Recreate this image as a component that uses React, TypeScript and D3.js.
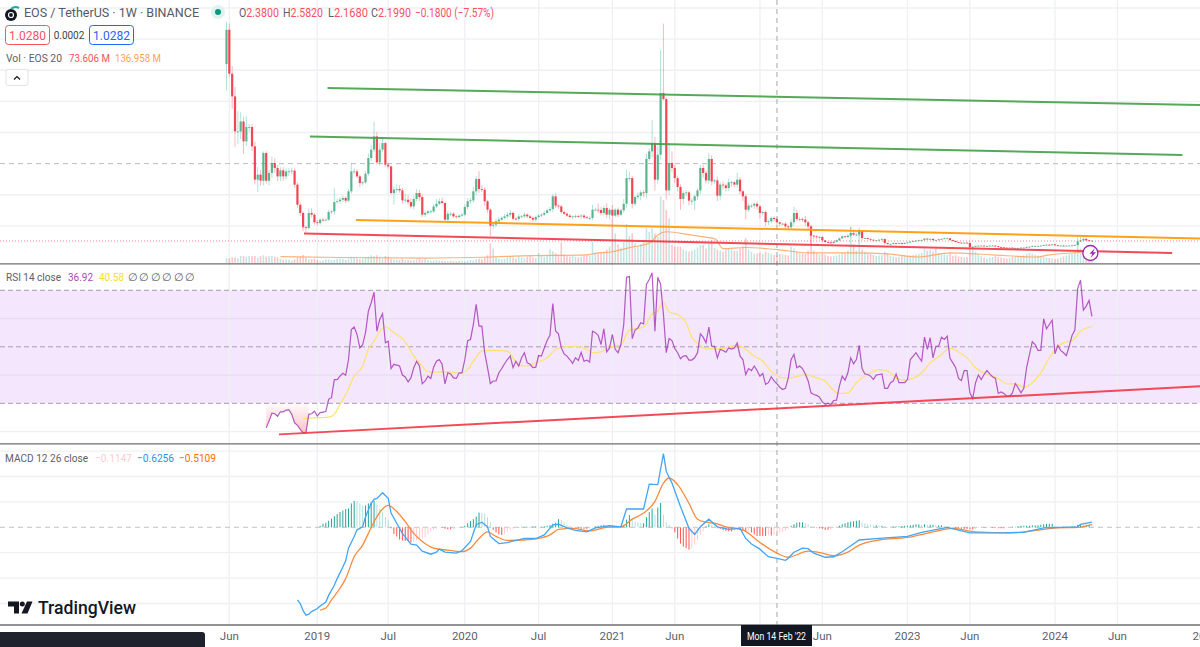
import React from "react";
import * as d3 from "d3";

const WIDTH = 1200;
const HEIGHT = 647;
const FONT = "Roboto, 'Noto Sans', sans-serif";

// weekly bars, first one opens the week of 28 May 2018
const firstBar = Date.UTC(2018, 4, 28);
const firstOpen = 12.4;
const WEEK = 7 * 24 * 3600 * 1000;

const closes = [
  14.6, 11.78, 10.32, 8.07, 8.07, 8.71, 7.43, 8.35, 8.35, 7.11,
  4.97, 5.29, 4.9, 6.68, 4.9, 5.4, 6.04, 5.72, 5.18, 5.57,
  5.18, 5.5, 5.5, 5.55, 4.65, 3.36, 2.83, 1.91, 1.86, 2.83,
  2.72, 2.23, 2.18, 2.4, 2.36, 2.4, 2.89, 2.93, 3.53, 3.58,
  3.68, 3.79, 3.62, 4.22, 5.5, 5.5, 5.18, 4.75, 4.8, 5.35,
  6.36, 6.9, 7.75, 6.08, 6.9, 7.32, 5.93, 5.82, 4.11, 4.33,
  4.37, 4.28, 3.64, 3.68, 3.53, 3.25, 3.73, 4.11, 3.85, 2.72,
  2.83, 2.93, 2.93, 3.25, 3.42, 3.58, 3.47, 2.4, 2.78, 2.78,
  2.61, 2.57, 2.66, 2.72, 3.21, 3.58, 3.64, 4.22, 5.01, 4.37,
  4.33, 3.58, 3.04, 2.01, 2.08, 2.29, 2.4, 2.51, 2.61, 2.72,
  2.83, 2.46, 2.44, 2.61, 2.61, 2.72, 2.61, 2.51, 2.4, 2.57,
  2.66, 2.72, 2.83, 3.0, 3.08, 3.9, 3.3, 3.25, 2.89, 2.78,
  2.66, 2.57, 2.61, 2.63, 2.61, 2.66, 2.55, 2.51, 2.51, 3.04,
  3.04, 3.02, 2.83, 3.15, 2.72, 3.04, 2.66, 3.04, 2.72, 3.0,
  3.42, 5.07, 5.07, 3.42, 3.85, 3.94, 4.15, 4.11, 6.3, 6.79,
  7.32, 4.97, 6.57, 10.54, 10.15, 4.28, 6.04, 5.72, 5.07, 4.5,
  3.73, 4.11, 4.15, 3.62, 3.62, 3.9, 4.28, 5.72, 5.4, 4.92,
  6.3, 4.86, 4.92, 3.94, 4.65, 4.6, 4.43, 4.8, 4.8, 4.65,
  4.97, 4.22, 3.9, 3.04, 3.3, 3.3, 3.42, 3.25, 2.83, 2.89,
  2.25, 2.29, 2.51, 2.44, 2.23, 2.14, 2.14, 1.97, 1.91, 2.23,
  2.83, 2.44, 2.44, 2.4, 2.23, 1.97, 1.37, 1.33, 1.28, 1.28,
  1.07, 0.96, 0.94, 0.9, 0.98, 1.07, 1.2, 1.33, 1.28, 1.37,
  1.54, 1.44, 1.44, 1.65, 1.22, 1.22, 1.16, 1.11, 1.07, 1.07,
  1.11, 1.16, 0.9, 0.84, 0.84, 0.9, 0.86, 0.9, 0.84, 0.9,
  0.94, 0.98, 1.03, 1.05, 1.07, 1.09, 1.18, 1.14, 1.16, 1.09,
  1.09, 1.14, 1.16, 1.2, 1.2, 1.09, 1.03, 0.96, 0.92, 0.9,
  0.92, 0.9, 0.64, 0.66, 0.71, 0.73, 0.73, 0.71, 0.71, 0.73,
  0.73, 0.69, 0.64, 0.62, 0.6, 0.58, 0.6, 0.58, 0.58, 0.58,
  0.6, 0.6, 0.64, 0.66, 0.71, 0.71, 0.71, 0.73, 0.77, 0.79,
  0.77, 0.81, 0.75, 0.73, 0.73, 0.71, 0.73, 0.73, 0.75, 0.77,
  1.0, 1.07, 1.16, 1.07, 1.05, 1.05,
];

const upperWicks = [
  0.5, 0.4, 0.5, 0.6, 1.3, 0.6, 0.3, 0.7, 0.2, 0.2,
  0.3, 0.5, 0.3, 0.1, 0.1, 0.2, 0.4, 0.3, 0.2, 0.2,
  0.2, 0.2, 0.2, 0.2, 0.15, 0.15, 0.15, 0.1, 0.1, 0.3,
  0.3, 0.1, 0.15, 0.1, 0.1, 0.05, 0.15, 0.1, 0.9, 0.15,
  0.15, 0.15, 0.1, 0.15, 0.5, 0.2, 0.15, 0.1, 0.1, 0.15,
  0.3, 0.3, 0.95, 0.3, 0.4, 0.3, 0.1, 0.1, 0.05, 0.2,
  0.3, 0.25, 0.15, 0.4, 0.3, 0.25, 0.2, 0.25, 0.2, 0.15,
  0.15, 0.1, 0.1, 0.15, 0.3, 0.2, 0.25, 0.1, 0.15, 0.1,
  0.1, 0.1, 0.1, 0.1, 0.15, 0.2, 0.15, 0.3, 0.2, 0.5,
  0.25, 0.15, 0.1, 0.1, 0.2, 0.15, 0.15, 0.1, 0.15, 0.15,
  0.2, 0.1, 0.1, 0.15, 0.1, 0.15, 0.1, 0.1, 0.1, 0.1,
  0.1, 0.1, 0.15, 0.1, 0.15, 0.15, 0.2, 0.1, 0.1, 0.1,
  0.1, 0.1, 0.05, 0.1, 0.1, 0.1, 0.1, 0.1, 0.1, 0.3,
  0.1, 0.4, 0.2, 0.15, 0.3, 0.1, 0.3, 0.1, 0.15, 0.1,
  0.3, 0.55, 0.4, 0.15, 0.1, 0.2, 0.15, 0.15, 0.35, 0.2,
  1.48, 0.4, 0.55, 2.76, 4.45, 0.1, 1.26, 0.75, 0.2, 0.15,
  0.2, 0.15, 0.15, 0.1, 0.15, 0.1, 0.15, 0.2, 0.2, 0.15,
  0.4, 0.25, 0.1, 0.25, 0.15, 0.2, 0.1, 0.25, 0.1, 0.1,
  0.45, 0.15, 0.1, 0.15, 0.15, 0.1, 0.1, 0.15, 0.1, 0.1,
  0.1, 0.1, 0.1, 0.1, 0.1, 0.05, 0.05, 0.1, 0.05, 0.2,
  0.4, 0.2, 0.15, 0.1, 0.25, 0.1, 0.1, 0.05, 0.05, 0.05,
  0.05, 0.03, 0.03, 0.05, 0.05, 0.05, 0.05, 0.05, 0.05, 0.1,
  0.36, 0.2, 0.1, 0.25, 0.1, 0.05, 0.05, 0.05, 0.03, 0.03,
  0.05, 0.05, 0.03, 0.03, 0.03, 0.03, 0.03, 0.03, 0.03, 0.05,
  0.03, 0.05, 0.03, 0.03, 0.05, 0.05, 0.05, 0.05, 0.05, 0.05,
  0.05, 0.05, 0.05, 0.05, 0.05, 0.03, 0.03, 0.03, 0.03, 0.03,
  0.03, 0.03, 0.1, 0.05, 0.03, 0.03, 0.03, 0.03, 0.03, 0.03,
  0.03, 0.03, 0.03, 0.03, 0.03, 0.03, 0.03, 0.03, 0.03, 0.03,
  0.03, 0.03, 0.03, 0.03, 0.03, 0.03, 0.03, 0.03, 0.05, 0.05,
  0.05, 0.05, 0.03, 0.03, 0.03, 0.03, 0.03, 0.03, 0.03, 0.03,
  0.25, 0.35, 0.15, 0.1, 0.05, 0.04,
];

const lowerWicks = [
  1.7, 0.2, 0.8, 1.0, 0.8, 0.5, 0.8, 0.3, 0.3, 0.3,
  0.3, 0.8, 0.3, 0.3, 0.2, 0.3, 0.3, 0.3, 0.3, 0.3,
  0.3, 0.2, 0.3, 0.2, 0.2, 0.2, 0.2, 0.25, 0.3, 0.1,
  0.2, 0.15, 0.15, 0.1, 0.1, 0.05, 0.1, 0.15, 0.2, 0.1,
  0.15, 0.15, 0.15, 0.1, 0.15, 0.15, 0.1, 0.25, 0.15, 0.1,
  0.15, 0.2, 0.15, 0.15, 0.2, 0.15, 0.15, 0.15, 0.1, 0.75,
  0.2, 0.15, 0.2, 0.15, 0.15, 0.15, 0.2, 0.15, 0.25, 0.15,
  0.15, 0.1, 0.1, 0.1, 0.1, 0.1, 0.1, 0.15, 0.15, 0.15,
  0.1, 0.1, 0.1, 0.1, 0.1, 0.15, 0.15, 0.15, 0.25, 0.25,
  0.15, 0.3, 0.2, 0.64, 0.2, 0.15, 0.1, 0.1, 0.1, 0.15,
  0.15, 0.1, 0.1, 0.1, 0.1, 0.1, 0.1, 0.1, 0.15, 0.15,
  0.1, 0.1, 0.1, 0.1, 0.1, 0.2, 0.15, 0.15, 0.1, 0.1,
  0.1, 0.1, 0.15, 0.1, 0.1, 0.15, 0.1, 0.05, 0.15, 0.15,
  0.1, 0.2, 0.15, 0.15, 0.2, 0.3, 0.15, 0.1, 0.15, 0.1,
  0.15, 0.25, 0.2, 0.3, 0.15, 0.15, 0.3, 0.25, 0.3, 0.15,
  0.4, 0.7, 0.25, 0.3, 0.1, 0.6, 0.3, 0.25, 0.3, 0.3,
  0.7, 0.35, 0.2, 0.3, 0.3, 0.6, 0.25, 0.25, 0.3, 0.2,
  0.2, 0.25, 0.15, 0.35, 0.3, 0.25, 0.2, 0.2, 0.3, 0.15,
  0.2, 0.2, 0.3, 0.6, 0.15, 0.15, 0.2, 0.2, 0.35, 0.15,
  0.25, 0.2, 0.1, 0.15, 0.2, 0.15, 0.1, 0.15, 0.15, 0.1,
  0.2, 0.15, 0.15, 0.15, 0.2, 0.15, 0.65, 0.2, 0.15, 0.15,
  0.1, 0.05, 0.05, 0.05, 0.05, 0.05, 0.05, 0.05, 0.05, 0.05,
  0.1, 0.1, 0.1, 0.1, 0.15, 0.05, 0.05, 0.05, 0.05, 0.05,
  0.05, 0.05, 0.1, 0.05, 0.03, 0.03, 0.03, 0.03, 0.03, 0.03,
  0.03, 0.05, 0.03, 0.03, 0.03, 0.03, 0.05, 0.05, 0.05, 0.05,
  0.03, 0.05, 0.03, 0.03, 0.05, 0.05, 0.05, 0.03, 0.03, 0.03,
  0.03, 0.03, 0.1, 0.05, 0.03, 0.03, 0.03, 0.03, 0.03, 0.03,
  0.03, 0.03, 0.03, 0.03, 0.03, 0.03, 0.03, 0.03, 0.03, 0.03,
  0.03, 0.03, 0.03, 0.03, 0.03, 0.03, 0.03, 0.03, 0.03, 0.03,
  0.03, 0.03, 0.03, 0.03, 0.03, 0.03, 0.03, 0.03, 0.03, 0.03,
  0.03, 0.03, 0.03, 0.03, 0.03, 0.03,
];

// volume in millions
const volumes = [
  48, 48, 57, 57, 48, 70, 70, 63, 70, 70,
  70, 57, 70, 76, 63, 70, 70, 63, 57, 44,
  32, 38, 32, 25, 38, 57, 63, 79, 57, 38,
  38, 44, 32, 22, 25, 38, 38, 32, 32, 44,
  44, 44, 32, 44, 63, 57, 44, 38, 44, 57,
  63, 76, 70, 76, 63, 44, 70, 63, 44, 38,
  38, 32, 44, 32, 32, 25, 32, 38, 44, 32,
  44, 32, 25, 25, 32, 25, 25, 19, 19, 25,
  19, 19, 25, 25, 19, 25, 32, 25, 38, 44,
  38, 57, 76, 190, 140, 63, 44, 38, 44, 57,
  70, 57, 44, 63, 57, 50, 63, 76, 57, 50,
  95, 70, 63, 76, 133, 115, 95, 82, 197, 82,
  70, 63, 70, 63, 57, 63, 76, 82, 70, 206,
  100, 90, 100, 110, 130, 160, 428, 285, 180, 150,
  200, 374, 260, 285, 190, 160, 180, 200, 333, 300,
  333, 285, 250, 634, 602, 507, 428, 175, 158, 160,
  158, 130, 120, 110, 120, 130, 150, 175, 175, 140,
  190, 222, 150, 130, 120, 110, 130, 140, 130, 120,
  120, 140, 160, 238, 130, 110, 90, 95, 100, 90,
  110, 100, 90, 80, 74, 90, 85, 80, 75, 158,
  140, 110, 100, 95, 90, 120, 285, 120, 95, 85,
  90, 80, 70, 65, 70, 75, 85, 100, 95, 120,
  349, 180, 120, 317, 130, 110, 100, 90, 80, 70,
  75, 80, 110, 95, 70, 65, 60, 65, 70, 75,
  70, 75, 80, 85, 90, 100, 140, 120, 130, 110,
  140, 100, 90, 85, 80, 100, 70, 75, 65, 60,
  55, 60, 160, 150, 110, 90, 70, 55, 45, 55,
  60, 70, 60, 55, 50, 45, 50, 60, 65, 60,
  70, 75, 90, 100, 90, 80, 75, 70, 60, 55,
  50, 45, 40, 45, 55, 65, 75, 85, 95, 110,
  190, 140, 100, 90, 80, 60,
];

const volMaBars = [19, 40, 70, 93, 104, 127, 130, 136, 143, 149, 152, 155, 160, 167, 172, 175, 183, 194, 205, 221, 233, 244, 255, 270, 285, 290, 305];
const volMaValues = [63, 55, 50, 60, 70, 80, 95, 110, 155, 190, 270, 300, 285, 255, 235, 140, 150, 130, 100, 100, 90, 60, 100, 80, 60, 80, 110];

const rsiStart = 14;
const rsiValues = [
  21.3, 23.7, 26.5, 26.3, 25.4, 27.0, 27.0, 27.6, 27.7, 26.1,
  23.1, 22.2, 20.8, 19.5, 19.5, 26.1, 26.3, 27.2, 25.5, 26.7,
  26.9, 27.1, 31.4, 32.0, 38.4, 38.4, 39.6, 40.6, 39.9, 45.5,
  56.1, 57.0, 54.4, 49.6, 50.8, 55.0, 62.6, 65.6, 69.3, 55.5,
  59.7, 61.7, 51.4, 52.0, 42.3, 43.8, 43.5, 43.2, 40.0, 39.3,
  37.6, 39.0, 42.6, 44.9, 43.2, 36.9, 37.9, 39.6, 38.8, 42.8,
  44.9, 45.5, 43.8, 36.9, 40.8, 40.4, 39.0, 38.8, 40.8, 40.8,
  45.5, 52.2, 52.6, 57.9, 65.0, 57.3, 57.3, 47.9, 42.6, 37.0,
  37.9, 37.9, 40.8, 42.3, 44.0, 45.5, 46.7, 42.6, 44.9, 43.2,
  46.1, 47.9, 44.3, 43.8, 42.6, 42.8, 46.9, 46.7, 49.6, 52.2,
  54.1, 65.3, 55.5, 54.6, 49.6, 47.5, 46.7, 45.5, 44.1, 46.1,
  45.2, 48.0, 44.9, 45.3, 44.6, 55.5, 55.0, 54.1, 50.8, 56.4,
  48.2, 49.6, 54.4, 49.1, 47.9, 50.8, 57.9, 74.6, 74.9, 52.9,
  55.9, 56.7, 58.5, 58.1, 72.1, 73.8, 76.2, 55.5, 74.6, 72.1,
  61.4, 47.9, 52.9, 52.2, 49.4, 47.9, 45.8, 46.7, 46.9, 45.3,
  45.3, 46.1, 47.9, 54.6, 53.4, 51.4, 57.0, 50.2, 50.2, 46.1,
  49.1, 48.7, 48.1, 49.6, 49.2, 49.6, 51.4, 46.7, 45.5, 40.2,
  42.3, 41.6, 43.2, 41.6, 39.6, 40.6, 36.7, 37.3, 39.4, 37.9,
  36.9, 35.7, 34.9, 35.3, 39.0, 45.5, 47.3, 42.6, 43.2, 42.3,
  40.4, 37.9, 33.7, 33.1, 32.8, 32.2, 30.5, 29.6, 30.0, 29.6,
  31.0, 31.1, 36.1, 39.6, 38.2, 40.8, 46.1, 44.0, 45.5, 50.5,
  42.3, 40.4, 40.2, 39.6, 38.4, 40.0, 40.2, 40.4, 35.3, 35.3,
  37.3, 37.9, 40.4, 37.3, 37.3, 37.3, 38.4, 45.5, 46.7, 47.9,
  46.3, 44.9, 53.4, 49.1, 53.2, 46.1, 50.2, 50.2, 53.4, 52.6,
  53.8, 45.9, 44.3, 42.6, 38.8, 38.1, 41.6, 41.6, 33.7, 31.7,
  37.3, 40.0, 38.4, 40.2, 41.6, 40.4, 39.4, 38.8, 33.5, 34.0,
  33.5, 32.5, 32.5, 33.7, 37.0, 35.5, 33.7, 35.3, 42.6, 47.3,
  51.8, 50.8, 48.7, 48.7, 59.9, 56.4, 57.9, 59.4, 47.5, 50.5,
  48.7, 47.9, 46.9, 50.2, 54.0, 55.9, 70.6, 73.6, 63.0, 64.4,
  66.4, 60.8,
];

const rsiMaBars = [
  27, 32, 36, 38, 40, 42, 45, 48, 50, 52, 54, 56, 59, 62, 64, 66, 68, 71, 74, 78,
  82, 85, 87, 90, 94, 99, 101, 103, 106, 109, 113, 116, 119, 123, 127, 129, 132, 135, 139, 142,
  147, 150, 152, 154, 156, 159, 162, 164, 166, 169, 174, 180, 183, 186, 189, 192, 196, 199, 204, 208,
  211, 213, 216, 219, 222, 227, 230, 233, 236, 239, 245, 248, 252, 255, 257, 261, 264, 268, 272, 275,
  278, 281, 284, 287, 290, 293, 296, 298, 301, 305,
];
const rsiMaValues = [
  24.6, 24.9, 25.1, 26.1, 29.6, 33.1, 39.6, 43.2, 49.1, 52.0, 55.5, 57.1, 55.0, 52.9, 50.2, 46.7, 44.3, 41.2, 41.0, 41.2,
  40.6, 42.0, 44.9, 48.5, 48.7, 48.5, 46.1, 43.4, 43.2, 44.3, 46.1, 49.1, 50.0, 50.2, 49.1, 47.9, 48.2, 49.9, 50.6, 55.9,
  57.0, 61.7, 62.6, 65.8, 62.3, 61.4, 58.5, 53.4, 51.4, 49.3, 49.3, 50.5, 49.1, 46.7, 44.9, 41.4, 39.0, 39.0, 40.2, 39.0,
  37.9, 35.5, 33.5, 33.7, 37.3, 40.8, 41.9, 41.4, 39.0, 38.2, 40.8, 44.3, 47.3, 49.6, 48.7, 46.1, 42.6, 40.2, 38.8, 36.9,
  36.9, 35.7, 37.3, 40.8, 46.1, 50.2, 51.7, 52.2, 55.5, 57.2,
];

const macdBars = [
  25, 26, 27, 28, 29, 30, 31, 32, 33, 35, 36, 38, 39, 41, 42, 43, 45, 46, 48, 49,
  51, 52, 53, 55, 57, 58, 60, 62, 65, 67, 69, 72, 74, 75, 77, 81, 83, 86, 88, 90,
  92, 93, 96, 99, 101, 105, 109, 112, 115, 117, 120, 123, 127, 130, 135, 139, 141, 147, 149, 152,
  154, 155, 157, 160, 163, 165, 167, 170, 173, 177, 181, 183, 185, 188, 191, 194, 197, 198, 200, 203,
  205, 207, 211, 214, 217, 223, 230, 240, 245, 254, 262, 273, 281, 288, 300, 301, 305,
];
const macdValues = [
  -1.43, -1.5, -1.64, -1.73, -1.71, -1.66, -1.63, -1.6, -1.55, -1.47, -1.34, -1.14, -1.01, -0.78, -0.66, -0.41, -0.18, -0.05, 0.01, 0.21,
  0.47, 0.55, 0.57, 0.68, 0.57, 0.28, 0.08, -0.12, -0.33, -0.35, -0.47, -0.53, -0.49, -0.43, -0.49, -0.51, -0.46, -0.28, 0.05, 0.1,
  0.01, -0.18, -0.32, -0.3, -0.27, -0.22, -0.22, -0.15, 0.05, 0.06, -0.01, -0.06, -0.09, -0.01, 0.03, 0.01, 0.36, 0.36, 0.85, 0.84,
  1.45, 1.1, 0.87, 0.41, -0.02, -0.14, 0.01, 0.16, 0.01, -0.04, -0.02, -0.22, -0.33, -0.43, -0.58, -0.61, -0.65, -0.61, -0.49, -0.41,
  -0.42, -0.51, -0.59, -0.58, -0.48, -0.25, -0.22, -0.18, -0.1, 0, -0.11, -0.11, -0.1, -0.01, 0.01, 0.06, 0.1,
];

const signalBars = [
  33, 35, 37, 40, 42, 45, 48, 50, 52, 55, 57, 60, 63, 66, 69, 73, 78, 83, 86, 89,
  92, 95, 99, 105, 110, 114, 117, 122, 128, 134, 139, 143, 147, 151, 154, 156, 159, 163, 166, 169,
  172, 176, 182, 188, 194, 198, 205, 210, 214, 219, 223, 230, 240, 249, 256, 264, 276, 284, 293, 300, 305,
];
const signalValues = [
  -1.63, -1.59, -1.43, -1.2, -1.01, -0.58, -0.35, -0.12, 0.11, 0.36, 0.43, 0.31, 0.11, -0.12, -0.28, -0.41, -0.45, -0.48, -0.41, -0.22,
  -0.09, -0.18, -0.26, -0.25, -0.22, -0.15, -0.04, -0.02, -0.07, 0, 0.01, 0.16, 0.28, 0.51, 0.87, 0.97, 0.84, 0.47, 0.16, 0.1,
  0.08, 0.01, -0.05, -0.3, -0.51, -0.59, -0.47, -0.51, -0.56, -0.49, -0.35, -0.25, -0.2, -0.09, -0.02, -0.09, -0.11, -0.07, -0.01, 0, 0.06,
];

const histStart = 33;
const histValues = [
  0.03, 0.07, 0.09, 0.13, 0.17, 0.22, 0.26, 0.3, 0.33, 0.36, 0.37, 0.47, 0.52, 0.51, 0.47, 0.43, 0.43, 0.47, 0.5, 0.52,
  0.45, 0.36, 0.3, 0.2, 0.15, -0.02, -0.13, -0.18, -0.24, -0.26, -0.27, -0.27, -0.3, -0.28, -0.26, -0.24, -0.22, -0.2, -0.14, -0.09,
  -0.05, -0.03, 0, -0.01, -0.03, -0.04, -0.04, -0.03, -0.02, -0.01, 0.01, 0.03, 0.08, 0.12, 0.16, 0.21, 0.29, 0.28, 0.27, 0.2,
  0.1, -0.05, -0.1, -0.14, -0.15, -0.13, -0.09, -0.06, -0.03, -0.01, -0.01, 0.01, 0.01, 0.01, 0.01, 0.02, 0.02, 0.01, 0.01, 0.02,
  0.03, 0.04, 0.07, 0.09, 0.16, 0.14, 0.1, 0.05, 0.03, 0.01, -0.01, -0.02, -0.03, -0.03, -0.03, -0.02, -0.01, 0.02, 0.03, 0.04,
  0.05, 0.04, 0.03, 0.03, 0.01, 0.01, 0.01, 0.05, 0.15, 0.24, 0.15, 0.11, 0.1, 0.08, 0.08, 0.2, 0.3, 0.37, 0.25, 0.39,
  0.48, 0.25, 0.1, 0.05, -0.02, -0.1, -0.22, -0.32, -0.38, -0.41, -0.44, -0.42, -0.34, -0.25, -0.15, -0.07, 0.02, 0.06, 0.05, 0.02,
  -0.02, -0.03, -0.06, -0.07, -0.08, -0.08, -0.07, -0.05, -0.05, -0.07, -0.09, -0.07, -0.1, -0.14, -0.17, -0.17, -0.17, -0.17, -0.16, -0.16,
  -0.15, -0.115, -0.11, -0.09, -0.07, -0.03, 0.03, 0.06, 0.09, 0.1, 0.1, 0.09, 0.06, 0.02, 0, -0.01, -0.02, -0.03, -0.05, -0.05,
  -0.04, -0.02, 0.01, 0.03, 0.06, 0.08, 0.1, 0.11, 0.12, 0.13, 0.14, 0.09, 0.08, 0.06, 0.05, 0.04, 0.04, 0.03, 0.03, 0.02,
  0.01, 0.01, 0.02, 0.02, 0.02, 0.03, 0.03, 0.03, 0.04, 0.05, 0.06, 0.06, 0.05, 0.06, 0.05, 0.05, 0.05, 0.04, 0.04, 0.04,
  0.03, 0.02, 0.01, -0.01, -0.02, -0.03, -0.03, -0.03, -0.03, -0.04, -0.04, -0.03, -0.02, -0.01, -0.01, -0.01, 0, -0.01, -0.01, -0.02,
  -0.02, -0.02, -0.01, 0, 0.01, 0.01, 0.02, 0.03, 0.03, 0.03, 0.03, 0.04, 0.04, 0.04, 0.05, 0.06, 0.07, 0.07, 0.07, 0.03,
  0.02, 0.01, 0.01, 0.01, 0.01, 0.02, 0.02, 0.05, 0.06, 0.05, 0.05, 0.05, 0.04,
];

// drawn trend lines: [bar, value, bar, value]
const priceTrends = [
  { color: "#43a047", from: [35.6, 10.86], to: [343.1, 9.77] },
  { color: "#43a047", from: [29.4, 7.74], to: [336.9, 6.55] },
  { color: "#ff9800", from: [45.6, 2.38], to: [343.1, 1.19] },
  { color: "#f23645", from: [27.3, 1.51], to: [333.3, 0.26] },
];
const rsiTrend = { color: "#f23645", from: [18.5, 19.0], to: [343.1, 36.0] };

const timeTicks = [
  { label: "Jun", date: Date.UTC(2018, 5, 4) },
  { label: "2019", date: Date.UTC(2019, 0, 7) },
  { label: "Jul", date: Date.UTC(2019, 6, 1) },
  { label: "2020", date: Date.UTC(2020, 0, 6) },
  { label: "Jul", date: Date.UTC(2020, 6, 6) },
  { label: "2021", date: Date.UTC(2021, 0, 4) },
  { label: "Jun", date: Date.UTC(2021, 5, 7) },
  { label: "2022", date: Date.UTC(2022, 0, 3) },
  { label: "Jun", date: Date.UTC(2022, 5, 6) },
  { label: "2023", date: Date.UTC(2023, 0, 2) },
  { label: "Jun", date: Date.UTC(2023, 5, 5) },
  { label: "2024", date: Date.UTC(2024, 0, 1) },
  { label: "Jun", date: Date.UTC(2024, 5, 3) },
  { label: "2025", date: Date.UTC(2025, 0, 6) },
];
const crosshairDate = Date.UTC(2022, 1, 14);
const crosshairLabel = "Mon 14 Feb '22";

const priceGrid = [2, 4, 8, 10, 12, 14, 16];
const rsiGrid = [60, 40, 20];
const macdGrid = [1.5, 1, 0.5, -0.5, -1, -1.5];
const emptyPlotX = [133, 144, 156, 167, 179, 190];

const UP = "#4caf84";
const DOWN = "#f23645";
const GRID = "#eef0f3";

const x = d3.scaleUtc().domain([firstBar, Date.UTC(2024, 0, 1)]).range([226.5, 1055]);
const xBar = (i: number) => x(firstBar + i * WEEK);
const yPrice = d3.scaleLinear().domain([0, 16]).range([257, 8]);
const yVol = d3.scaleLinear().domain([0, 630]).range([263.3, 197]);
const yRsi = d3.scaleLinear().domain([30, 70]).range([403.3, 290.3]);
const yMacd = d3.scaleLinear().domain([-0.5, 0.5]).range([552.7, 501.9]);

const anchorLine = (bars: number[], values: number[], y: (v: number) => number, curve: d3.CurveFactory) =>
  d3
    .line<number>()
    .x((b) => xBar(b))
    .y((_, i) => y(values[i]))
    .curve(curve)(bars);

const rsiBars = rsiValues.map((_, i) => i + rsiStart);
const rsiLine = d3
  .line<number>()
  .x((b) => xBar(b))
  .y((_, i) => yRsi(rsiValues[i]))(rsiBars);
const oversoldBars = rsiBars.filter((b) => b <= 29);
const oversoldArea = d3
  .area<number>()
  .x((b) => xBar(b))
  .y0(yRsi(30))
  .y1((_, i) => yRsi(rsiValues[i]))(oversoldBars);

const histColor = (v: number, prev: number) => {
  if (v >= 0) return v >= prev ? "#26a69a" : "#b2dfdb";
  return v <= prev ? "#ff5252" : "#ffcdd2";
};

// fit squeezes a text to the width it has in the picture
const Txt = ({ x, y, fill, size = 12, anchor = "start", weight = 400, fit, children }: any) => (
  <text
    x={x}
    y={y}
    fill={fill}
    fontSize={size}
    textAnchor={anchor}
    fontWeight={weight}
    fontFamily={FONT}
    textLength={fit}
    lengthAdjust={fit ? "spacingAndGlyphs" : undefined}
  >
    {children}
  </text>
);

export default function App() {
  const crossX = x(crosshairDate);
  return (
    <svg
      width={WIDTH}
      height={HEIGHT}
      viewBox={`0 0 ${WIDTH} ${HEIGHT}`}
      style={{ position: "absolute", left: 0, top: 0, background: "#fff", display: "block" }}
    >
      <defs>
        <linearGradient id="oversold" x1="0" x2="0" y1="0" y2="1">
          <stop offset="0" stopColor="#f23645" stopOpacity={0.02} />
          <stop offset="1" stopColor="#f23645" stopOpacity={0.3} />
        </linearGradient>
      </defs>

      {/* rsi band */}
      <rect x={0} y={yRsi(70)} width={WIDTH} height={yRsi(30) - yRsi(70)} fill="#f3e6fd" />

      {/* grid */}
      {timeTicks.map((t) => (
        <line key={t.date} x1={x(t.date)} x2={x(t.date)} y1={0} y2={625} stroke={GRID} strokeWidth={1.3} />
      ))}
      {priceGrid.map((p) => (
        <line key={p} x1={0} x2={WIDTH} y1={yPrice(p)} y2={yPrice(p)} stroke={GRID} strokeWidth={1.3} />
      ))}
      {rsiGrid.map((v) => (
        <line key={v} x1={0} x2={WIDTH} y1={yRsi(v)} y2={yRsi(v)} stroke={v === 20 ? GRID : "#e8dcf0"} strokeWidth={1.3} />
      ))}
      {macdGrid.map((v) => (
        <line key={v} x1={0} x2={WIDTH} y1={yMacd(v)} y2={yMacd(v)} stroke={GRID} strokeWidth={1.3} />
      ))}
      <line x1={0} x2={WIDTH} y1={yPrice(6)} y2={yPrice(6)} stroke="#bdbdbd" strokeDasharray="5 4" />
      {[70, 50, 30].map((v) => (
        <line key={v} x1={0} x2={WIDTH} y1={yRsi(v)} y2={yRsi(v)} stroke="#a99cb3" strokeDasharray="5 3" />
      ))}
      <line x1={0} x2={WIDTH} y1={yMacd(0)} y2={yMacd(0)} stroke="#c4c4c4" strokeDasharray="5 4" />
      <line x1={crossX} x2={crossX} y1={0} y2={625} stroke="#bcbcbc" strokeWidth={1.3} strokeDasharray="5 4" />

      {/* volume */}
      {volumes.map((v, i) => {
        const open = i === 0 ? firstOpen : closes[i - 1];
        return (
          <rect
            key={i}
            x={xBar(i) - 0.8}
            y={yVol(v)}
            width={1.6}
            height={yVol(0) - yVol(v)}
            fill={closes[i] >= open ? "#26a69a" : "#f23645"}
            fillOpacity={0.28}
          />
        );
      })}
      <path
        d={anchorLine(volMaBars, volMaValues, yVol, d3.curveMonotoneX) ?? ""}
        fill="none"
        stroke="#ff9f5a"
        strokeOpacity={0.8}
        strokeWidth={1.2}
      />

      {/* candles */}
      {closes.map((c, i) => {
        const open = i === 0 ? firstOpen : closes[i - 1];
        const up = c >= open;
        const top = Math.max(open, c);
        const bottom = Math.min(open, c);
        const px = xBar(i);
        return (
          <g key={i}>
            <line
              x1={px}
              x2={px}
              y1={yPrice(top + upperWicks[i])}
              y2={yPrice(bottom - lowerWicks[i])}
              stroke={up ? "#26a69a" : DOWN}
              strokeOpacity={0.35}
            />
            <rect
              x={px - 1.1}
              y={yPrice(top)}
              width={2.2}
              height={Math.max(yPrice(bottom) - yPrice(top), 0.8)}
              fill={up ? UP : DOWN}
              fillOpacity={0.9}
            />
          </g>
        );
      })}
      <line x1={0} x2={WIDTH} y1={yPrice(1.028)} y2={yPrice(1.028)} stroke="#f23645" strokeOpacity={0.6} strokeDasharray="1 2" />

      {/* trend lines */}
      {priceTrends.map((t, i) => (
        <line
          key={i}
          x1={xBar(t.from[0])}
          y1={yPrice(t.from[1])}
          x2={xBar(t.to[0])}
          y2={yPrice(t.to[1])}
          stroke={t.color}
          strokeWidth={2}
          strokeOpacity={0.9}
        />
      ))}

      {/* rsi */}
      <path d={oversoldArea ?? ""} fill="url(#oversold)" />
      <path
        d={anchorLine(rsiMaBars, rsiMaValues, yRsi, d3.curveMonotoneX) ?? ""}
        fill="none"
        stroke="#fde36a"
        strokeWidth={1.2}
      />
      <path d={rsiLine ?? ""} fill="none" stroke="#9c27b0" strokeOpacity={0.75} strokeWidth={1.2} />
      <line
        x1={xBar(rsiTrend.from[0])}
        y1={yRsi(rsiTrend.from[1])}
        x2={xBar(rsiTrend.to[0])}
        y2={yRsi(rsiTrend.to[1])}
        stroke={rsiTrend.color}
        strokeWidth={2}
        strokeOpacity={0.9}
      />

      {/* macd */}
      {histValues.map((v, i) => (
        <rect
          key={i}
          x={xBar(i + histStart) - 0.5}
          y={Math.min(yMacd(v), yMacd(0))}
          width={1}
          height={Math.abs(yMacd(v) - yMacd(0))}
          fill={histColor(v, i === 0 ? 0 : histValues[i - 1])}
        />
      ))}
      <path d={anchorLine(signalBars, signalValues, yMacd, d3.curveMonotoneX) ?? ""} fill="none" stroke="#f98b3f" strokeWidth={1.3} />
      <path d={anchorLine(macdBars, macdValues, yMacd, d3.curveLinear) ?? ""} fill="none" stroke="#42a5f5" strokeWidth={1.3} />

      {/* pane borders */}
      <line x1={0} x2={WIDTH} y1={263.8} y2={263.8} stroke="#6f6f6f" strokeWidth={1.3} />
      <line x1={0} x2={WIDTH} y1={443.8} y2={443.8} stroke="#6f6f6f" strokeWidth={1.3} />
      <line x1={0} x2={WIDTH} y1={625} y2={625} stroke="#6f6f6f" strokeWidth={1.3} />

      {/* bottom axis */}
      <rect x={-6} y={632} width={211} height={22} rx={3} fill="#1e222d" />
      {timeTicks
        .filter((t) => t.label !== "2022")
        .map((t) => (
          <Txt key={t.date} x={x(t.date)} y={640} size={11.5} anchor="middle" fill="#5d606b">
            {t.label}
          </Txt>
        ))}
      <rect x={741} y={625} width={71} height={21} fill="#131722" />
      <Txt x={747} y={640} size={11.5} fit={59} fill="#ffffff">
        {crosshairLabel}
      </Txt>

      {/* lightning badge */}
      <circle cx={xBar(305) - 1.5} cy={253} r={7.5} fill="#fff" stroke="#9c27b0" strokeWidth={1.3} />
      <path d="M1095 248 L1089.5 253.8 L1092.4 253.8 L1090.5 258 L1096 252.2 L1093 252.2 Z" fill="#9c27b0" />

      {/* watermark */}
      <path d="M8 601.5 H19 V613.5 H14 V606.5 H8 Z" fill="#131722" />
      <circle cx={22.3} cy={604} r={2.5} fill="#131722" />
      <path d="M27 601.5 H32.5 L27.5 613.5 H21.5 Z" fill="#131722" />
      <Txt x={38} y={614} size={18} weight={500} fit={98} fill="#131722">
        TradingView
      </Txt>

      {/* header legend */}
      <circle cx={11} cy={15} r={6} fill="#131722" />
      <circle cx={11} cy={15} r={2.5} fill="none" stroke="#fff" strokeWidth={1.2} />
      <path d="M11 9 A7 7 0 0 1 19 8" fill="none" stroke="#26a69a" strokeWidth={2} />
      <Txt x={24} y={17} size={13.5} fit={175} fill="#555a66">
        EOS / TetherUS · 1W · BINANCE
      </Txt>
      <circle cx={218} cy={12} r={7} fill="#e0f2ef" />
      <circle cx={218} cy={12} r={3} fill="#089981" />
      {[
        ["O", "2.3800", 239],
        ["H", "2.5820", 283],
        ["L", "2.1680", 328],
        ["C", "2.1990", 371],
      ].map(([k, v, px]) => (
        <text
          key={k as string}
          x={px as number}
          y={17}
          fontSize={12}
          fontFamily={FONT}
          fill="#5d606b"
          textLength={40}
          lengthAdjust="spacingAndGlyphs"
        >
          {k}
          <tspan fill="#f7525f">{v}</tspan>
        </text>
      ))}
      <Txt x={415} y={17} size={12} fit={79} fill="#f7525f">
        −0.1800 (−7.57%)
      </Txt>

      <rect x={5.5} y={25.5} width={44} height={19} rx={3} fill="#fff" stroke="#f7525f" />
      <Txt x={27.5} y={39.5} size={12} anchor="middle" fill="#f7525f">
        1.0280
      </Txt>
      <Txt x={69} y={39} size={10} anchor="middle" fill="#444">
        0.0002
      </Txt>
      <rect x={89.5} y={25.5} width={44} height={19} rx={3} fill="#fff" stroke="#2962ff" />
      <Txt x={111.5} y={39.5} size={12} anchor="middle" fill="#2962ff">
        1.0282
      </Txt>

      <Txt x={6} y={62} size={11.5} fit={56} fill="#5d606b">
        Vol · EOS 20
      </Txt>
      <Txt x={69} y={62} size={11.5} fit={41} fill="#f7525f">
        73.606 M
      </Txt>
      <Txt x={115} y={62} size={11.5} fit={46} fill="#ff9f5a">
        136.958 M
      </Txt>
      <rect x={6} y={69.5} width={22} height={16} rx={2} fill="#fff" stroke="#e0e3eb" />
      <path d="M14 79.5 L17 76.5 L20 79.5" fill="none" stroke="#131722" strokeWidth={1.2} />

      <Txt x={6} y={281} size={11.5} fit={55} fill="#5d606b">
        RSI 14 close
      </Txt>
      <Txt x={68} y={281} size={11.5} fit={25} fill="#ab47bc">
        36.92
      </Txt>
      <Txt x={99} y={281} size={11.5} fit={25} fill="#fdd835">
        40.58
      </Txt>
      {emptyPlotX.map((px) => (
        <Txt key={px} x={px} y={281} size={11} anchor="middle" fill="#5d606b">
          ∅
        </Txt>
      ))}

      <Txt x={5} y={462} size={11.5} fit={83} fill="#5d606b">
        MACD 12 26 close
      </Txt>
      <Txt x={95} y={462} size={11.5} fit={37} fill="#ffcdd2">
        −0.1147
      </Txt>
      <Txt x={137} y={462} size={11.5} fit={37} fill="#2196f3">
        −0.6256
      </Txt>
      <Txt x={179} y={462} size={11.5} fit={37} fill="#ff6d00">
        −0.5109
      </Txt>
    </svg>
  );
}
